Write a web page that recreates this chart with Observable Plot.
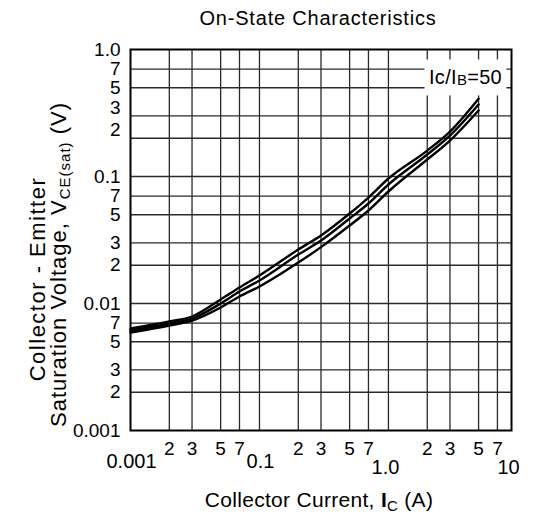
<!DOCTYPE html>
<html><head><meta charset="utf-8">
<script src="https://cdn.jsdelivr.net/npm/d3@7"></script>
<script src="https://cdn.jsdelivr.net/npm/@observablehq/plot@0.6"></script>
<style>
body{margin:0;background:#fff;}
svg{font-family:"Liberation Sans",Arial,sans-serif;}
</style>
</head><body><div id="chart"></div>
<script>
// Collector current (A) sample points
const current = [0.01,0.02,0.03,0.05,0.07,0.1,0.2,0.3,0.5,0.7,1,2,3,5];
// Three curves of VCE(sat) (V)
const vTop = [0.00636,0.00722,0.00790,0.01075,0.01336,0.0166,0.0266,0.0343,0.0511,0.0683,0.0964,0.160,0.226,0.41];
const vMid = [0.00613,0.00696,0.00760,0.0100,0.01243,0.01518,0.0243,0.0313,0.0467,0.0613,0.0865,0.149,0.210,0.369];
const vBot = [0.00591,0.00671,0.00732,0.0093,0.01135,0.01361,0.0210,0.0278,0.0411,0.0540,0.0762,0.136,0.192,0.331];

const xGrid = [0.02,0.03,0.05,0.07,0.1,0.2,0.3,0.5,0.7,1,2,3,5,7];
const yGrid = [0.002,0.003,0.005,0.007,0.01,0.02,0.03,0.05,0.07,0.1,0.2,0.3,0.5,0.7];

const xMinorTicks = [0.02,0.03,0.05,0.07,0.2,0.3,0.5,0.7,2,3,5,7];
const xMinorLabels = ["2","3","5","7","2","3","5","7","2","3","5","7"];
const xMajorTicksA = [0.01,0.1];
const xMajorLabelsA = ["0.001","0.1"];
const xMajorTicksB = [1,10];
const xMajorLabelsB = ["1.0","10"];

const yTicks = [1,0.7,0.5,0.1,0.07,0.05,0.03,0.02,0.01,0.007,0.005,0.003,0.002,0.001];
const yLabels = ["1.0","7","5","0.1","7","5","3","2","0.01","7","5","3","2","0.001"];
const yTicksUpper = [0.3,0.2];
const yLabelsUpper = ["3","2"];

const titleText = "On-State Characteristics";
const xTitleText = "Collector Current, IC (A)";
const yTitle1Text = "Collector - Emitter";
const yTitle2Text = "Saturation Voltage, VCE(sat) (V)";
const legendText = "Ic/IB=50";

const xDomain = [0.01, 9];
const yDomain = [0.001, 1];

const series = [["top", vTop], ["mid", vMid], ["bot", vBot]];
const curveData = series.flatMap(([s, vals]) => current.map((c, i) => ({s, I: c, V: vals[i]})));
const zip = (v, l) => v.map((d, i) => ({v: d, label: l[i]}));

const fs = 19;
const mid = {textAnchor: "middle", lineAnchor: "middle"};
const chart = Plot.plot({
  width: 533, height: 516,
  marginLeft: 130, marginRight: 22, marginTop: 49, marginBottom: 86,
  x: {type: "log", domain: xDomain, axis: null},
  y: {type: "log", domain: yDomain, axis: null},
  style: {background: "#fff", color: "#000"},
  marks: [
    Plot.ruleX(xGrid, {stroke: "#2a2a2a", strokeWidth: 1.3}),
    Plot.ruleY(yGrid, {stroke: "#2a2a2a", strokeWidth: 1.3}),
    Plot.frame({stroke: "#000", strokeWidth: 2}),
    Plot.line(curveData, {x: "I", y: "V", z: "s", stroke: "#000", strokeWidth: 2.4, curve: "monotone-x"}),
    // y tick labels
    Plot.text(zip(yTicks, yLabels), {y: "v", text: "label", frameAnchor: "left", textAnchor: "end", lineAnchor: "middle", dx: -10, fontSize: fs}),
    Plot.text(zip(yTicksUpper, yLabelsUpper), {y: "v", text: "label", frameAnchor: "left", textAnchor: "end", lineAnchor: "middle", dx: -10, dy: -8, fontSize: fs}),
    // x tick labels
    Plot.text(zip(xMinorTicks, xMinorLabels), {x: "v", text: "label", frameAnchor: "bottom", ...mid, dy: 18, fontSize: fs}),
    Plot.text(zip(xMajorTicksA, xMajorLabelsA), {x: "v", text: "label", frameAnchor: "bottom", ...mid, dy: 31.5, dx: 1, fontSize: 20}),
    Plot.text(zip(xMajorTicksB, xMajorLabelsB), {x: d => Math.min(d.v, xDomain[1]), text: "label", frameAnchor: "bottom", ...mid, dy: 37.5, dx: -3, fontSize: 20}),
    // titles
    Plot.text([titleText], {frameAnchor: "top", ...mid, dy: -31, dx: -3, fontSize: 20}),
    Plot.text([xTitleText], {frameAnchor: "bottom", ...mid, dy: 70, dx: -2, fontSize: 21}),
    Plot.text([yTitle1Text], {frameAnchor: "left", ...mid, rotate: -90, dx: -92.5, dy: 39, fontSize: 22}),
    Plot.text([yTitle2Text], {frameAnchor: "left", ...mid, rotate: -90, dx: -72, dy: 24.5, fontSize: 22}),
    Plot.text([legendText], {frameAnchor: "top-right", ...mid, dx: -46, dy: 28.5, fontSize: 20})
  ]
});
document.getElementById("chart").appendChild(chart);

function findText(str) {
  return d3.select(chart).selectAll("text").filter(function() { return this.textContent === str; });
}
function rich(str, parts) {
  const t = findText(str);
  if (t.empty()) return t;
  t.text(null);
  let shifted = 0;
  for (const p of parts) {
    const ts = t.append("tspan").text(p.t);
    const target = p.sub ? (p.shift ?? 4) : 0;
    if (target !== shifted) { ts.attr("dy", target - shifted); shifted = target; }
    if (p.sub) ts.attr("font-size", p.size || 15);
    if (p.bold) ts.attr("font-weight", "bold");
  }
  return t;
}
// letter spacing for the wide-set reference lettering
findText(titleText).attr("letter-spacing", 0.8);
findText(yTitle1Text).attr("letter-spacing", 1.5);
findText(yTitle2Text).attr("letter-spacing", 1.0);
findText(xTitleText).attr("letter-spacing", 0.3);
findText(legendText).attr("letter-spacing", 0.3);

rich(xTitleText, [{t: "Collector Current, "}, {t: "I", bold: true}, {t: "C", sub: true}, {t: " (A)"}]);
rich(yTitle2Text, [{t: "Saturation Voltage, V"}, {t: "CE(sat)", sub: true, size: 15}, {t: " (V)"}]);
const lgText = rich(legendText, [{t: "Ic/I"}, {t: "B", sub: true, size: 15, shift: 0.5}, {t: "=50"}]);
// legend background box
if (!lgText.empty()) {
  const node = lgText.node();
  const bb = node.getBBox();
  const tr = node.getAttribute("transform");
  d3.select(node.parentNode).insert("rect", "text")
    .attr("transform", tr)
    .attr("x", bb.x - 4.5).attr("y", bb.y - 7).attr("width", bb.width + 9).attr("height", bb.height + 14)
    .attr("fill", "#fff");
}
</script>
</body></html>
